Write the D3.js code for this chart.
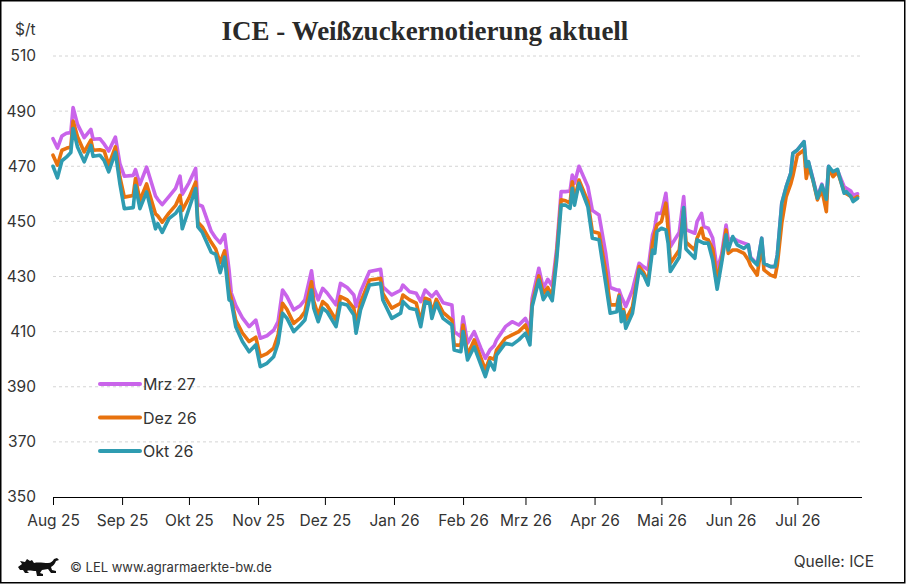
<!DOCTYPE html>
<html>
<head>
<meta charset="utf-8">
<script src="https://cdn.jsdelivr.net/npm/d3@7"></script>
<style>
  body { margin: 0; background: #fff; }
  svg { display: block; }
</style>
</head>
<body>
<div id="chart"></div>
<script>
var monthNames = ["Jan","Feb","Mrz","Apr","Mai","Jun","Jul","Aug","Sep","Okt","Nov","Dez"]
var yTicks = [350,370,390,410,430,450,470,490,510]
var seriesNames = ["Mrz 27","Dez 26","Okt 26"]
var colors = {"Mrz 27":"#c964ea","Dez 26":"#e8720e","Okt 26":"#2f9cb1"}

var dates = [
 "2025-08-01","2025-08-03","2025-08-05","2025-08-07","2025-08-09","2025-08-10","2025-08-12","2025-08-15","2025-08-18","2025-08-19",
 "2025-08-22","2025-08-24","2025-08-26","2025-08-29","2025-08-31","2025-09-02","2025-09-06","2025-09-07","2025-09-09","2025-09-12",
 "2025-09-16","2025-09-17","2025-09-19","2025-09-22","2025-09-25","2025-09-27","2025-09-28","2025-10-01","2025-10-04","2025-10-05",
 "2025-10-07","2025-10-11","2025-10-13","2025-10-15","2025-10-17","2025-10-19","2025-10-20","2025-10-22","2025-10-25","2025-10-28",
 "2025-10-31","2025-11-02","2025-11-05","2025-11-08","2025-11-10","2025-11-12","2025-11-14","2025-11-17","2025-11-20","2025-11-22",
 "2025-11-25","2025-11-26","2025-11-28","2025-11-30","2025-12-02","2025-12-06","2025-12-08","2025-12-11","2025-12-14","2025-12-15",
 "2025-12-17","2025-12-21","2025-12-26","2025-12-27","2025-12-31","2026-01-04","2026-01-05","2026-01-08","2026-01-11","2026-01-13",
 "2026-01-15","2026-01-17","2026-01-18","2026-01-20","2026-01-23","2026-01-27","2026-01-28","2026-01-31","2026-02-01","2026-02-03",
 "2026-02-06","2026-02-09","2026-02-11","2026-02-13","2026-02-15","2026-02-16","2026-02-20","2026-02-23","2026-02-26","2026-03-01",
 "2026-03-03","2026-03-04","2026-03-07","2026-03-09","2026-03-11","2026-03-13","2026-03-15","2026-03-17","2026-03-19","2026-03-21",
 "2026-03-22","2026-03-23","2026-03-25","2026-03-29","2026-03-31","2026-04-03","2026-04-06","2026-04-08","2026-04-11","2026-04-12",
 "2026-04-13","2026-04-14","2026-04-15","2026-04-18","2026-04-21","2026-04-23","2026-04-25","2026-04-27","2026-04-28","2026-04-29",
 "2026-05-01","2026-05-03","2026-05-04","2026-05-05","2026-05-09","2026-05-11","2026-05-12","2026-05-16","2026-05-17","2026-05-19",
 "2026-05-20","2026-05-22","2026-05-24","2026-05-26","2026-05-28","2026-05-30","2026-05-31","2026-06-02","2026-06-04","2026-06-07",
 "2026-06-09","2026-06-10","2026-06-13","2026-06-15","2026-06-16","2026-06-19","2026-06-21","2026-06-22","2026-06-24","2026-06-26",
 "2026-06-28","2026-06-29","2026-07-01","2026-07-04","2026-07-05","2026-07-06","2026-07-08","2026-07-10","2026-07-12","2026-07-14",
 "2026-07-15","2026-07-17","2026-07-19","2026-07-22","2026-07-23","2026-07-25","2026-07-26","2026-07-28"
]

var mrz27 = [
 480,476.6,481,482,482.2,491.3,485.2,480.4,483.4,479.8,
 480,478,475.5,480.6,471,466.4,466.7,468.8,463.4,469.7,
 459.2,458,456.1,459,462,466.4,459.8,464,469.2,456.1,
 455.5,446.4,444,442.2,445.2,432.4,424,419.5,415,411.8,
 414.2,407.6,408.5,410.5,413.6,425.1,422.7,417.9,419.5,421.5,
 432.1,426,421.5,425.7,424,419.7,427.5,426,423.3,419.1,
 424.5,431.8,432.6,426.3,423.3,425,426.9,424.5,423.9,420.9,
 425.1,423.5,422.7,424.5,420.5,419.7,410,408.2,415.4,405.8,
 410,404,400.3,403.3,405,407,411.8,413.6,412.4,414.8,
 410.6,422.1,433,425.7,429,426.6,440,460.8,460.8,461,
 466.8,463.8,470,462.6,454,452.3,438.4,426,425.1,425.1,
 422.7,421,419.1,425.1,434.8,433.5,432.4,445,447.5,452.9,
 452.9,460.2,452,440.8,446,459,447,445.7,449.9,452.9,
 448.1,447.5,444,432.4,438,448.7,443.3,443.9,443,442.1,
 441.5,437,434.5,443.9,434.5,433.6,433.6,437.8,456.6,462.6,
 467.4,474.7,475.9,478.9,469.8,471.5,465.5,459,463.5,458,
 470,467,468.5,462.6,462,461,459.5,460
]

var dez26 = [
 474,470.4,475.8,476.5,477,486.4,480.7,475.2,479.5,475.8,
 476,475.5,470.4,477,466.1,458.8,459.4,465.5,457.6,463.6,
 452.7,452,449.7,453,455.8,459.4,454,458.5,464.2,449.7,
 448,442.4,440,435,439.3,425.1,422,414.2,409.5,406.4,
 408,400.9,402,404,408.8,420.3,418,413,415,417.2,
 428.1,421,416,420.9,419.5,414.2,422.7,421.5,418.5,412.4,
 420.5,428.7,429.3,423.9,418.5,420.3,423.3,421.5,420.3,413.6,
 422.1,421.5,416.7,421.7,417,414.2,405.2,405,412.4,401.5,
 407,400.5,396.1,400.5,400,403.3,407.6,408.8,410,412.4,
 407.6,420,430.2,423.9,426,423,438,457.8,457.5,456.6,
 464.4,457.8,465,457.2,446.3,445.7,432,419.7,419.7,423.3,
 417.2,418,414.2,419,433.6,431.5,428.1,442,445.7,448.7,
 449.9,456.6,447,434.8,439.6,454.5,442.5,439.6,443.9,447.5,
 443.9,443.3,440,428.7,436,446.9,438.4,439.6,439.6,438.4,
 436,434,430.5,442.1,432.4,430.5,429.9,434.2,449.3,459,
 463.5,466.5,474.1,475.9,465.6,469.8,465,457.8,461.4,453.5,
 469.3,466.2,468,460.8,460,459,458,459
]

var okt26 = [
 470,465.8,472,473.3,475,483.7,477,471.6,477.6,473.6,
 474,472,468,475,463.7,454.6,455,463,454.6,460.7,
 447.3,449.2,446,451,452.9,455.3,447.3,454.6,461.9,448,
 446,438.8,438,431.4,437,421.5,420.9,411.8,406.4,402.7,
 405.2,397.3,398.5,400.9,405.8,416.7,414.8,410,412.4,414.2,
 425.1,418.5,413.6,418.5,417.2,411.8,420.3,419.7,416,409.4,
 417.9,426.9,427.5,421.5,414.8,416.7,420.9,418.5,417.9,411.8,
 420.9,420.3,414.8,420.3,414.8,412.4,403.3,402.7,410,399.7,
 404.5,397.9,393.7,399.1,396.1,401.5,405.8,405.2,407,409.4,
 405.2,419.1,428.7,421.6,424.2,421.2,436,455.9,455.9,454.7,
 462,455.9,463.8,455.3,443.9,443.3,427.5,416.7,417.2,422.7,
 413.6,417.2,411.2,416.7,432.4,430.5,426.9,439.6,438.4,446.3,
 447.5,446.9,442.1,431.8,437,455,440,436.6,443.3,442.5,
 442.1,442.1,436,425.4,434.8,445.1,439.6,444.5,441.5,440.2,
 441.5,436.6,434.2,443.9,434.8,433.6,433.6,437.8,456.6,462.6,
 467.4,474.7,475.9,478.9,469.8,471.7,465,458.4,463.2,458,
 470,468,468.9,460.2,460.8,459,457.2,458.4
]

var W = 907, H = 585
var margin = {left: 53, right: 45, top: 56, bottom: 88}
var sans = "Inter, Roboto, sans-serif"

var svg = d3.select("#chart").append("svg").attr("width", W).attr("height", H)
svg.append("rect").attr("x",0.75).attr("y",0.75).attr("width",W-3).attr("height",H-3)
    .attr("fill","#fff").attr("stroke","#000").attr("stroke-width",1.5)

var parse = d3.timeParse("%Y-%m-%d")
var x = d3.scaleTime()
    .domain([parse("2025-08-01"), parse("2026-07-30")])
    .range([margin.left, W - margin.right])
var y = d3.scaleLinear().domain([350, 510]).range([H - margin.bottom, margin.top])

// gridlines
svg.append("g").selectAll("line").data(yTicks.slice(1)).enter().append("line")
    .attr("x1", margin.left).attr("x2", W - margin.right)
    .attr("y1", function(d){return y(d)}).attr("y2", function(d){return y(d)})
    .attr("stroke","#d4d4d4").attr("stroke-width",1).attr("stroke-dasharray","3,3")

// y labels
var yAxis = svg.append("g").attr("transform","translate(" + (margin.left - 17) + ",0)")
    .call(d3.axisLeft(y).tickValues(yTicks).tickSize(0).tickPadding(0))
yAxis.select(".domain").remove()
yAxis.selectAll("text").attr("font-family",sans).attr("font-size",15.5).attr("fill","#333")

svg.append("text").text("$/t").attr("x",15).attr("y",35)
    .attr("font-family",sans).attr("font-size",15.5).attr("fill","#333")

// x axis
var xAxis = svg.append("g").attr("transform","translate(0," + (H - margin.bottom) + ")")
    .call(d3.axisBottom(x).ticks(d3.timeMonth.every(1)).tickSize(8).tickPadding(10)
        .tickFormat(function(d){ return monthNames[d.getMonth()] + " " + d3.timeFormat("%y")(d) }))
xAxis.select(".domain").attr("d","M" + margin.left + ",0.5H" + (W - margin.right)).attr("stroke","#000").attr("stroke-width",1.2)
xAxis.selectAll(".tick line").attr("stroke","#000")
xAxis.selectAll(".tick").filter(function(d){ return d > parse("2026-07-15") }).remove()
xAxis.selectAll("text").attr("font-family",sans).attr("font-size",15.5).attr("fill","#333")

// lines
var line = d3.line()
    .x(function(d){return x(d.date)})
    .y(function(d){return y(d.value)})
var seriesData = {"Mrz 27": mrz27, "Dez 26": dez26, "Okt 26": okt26}
seriesNames.forEach(function(name){
    var pts = dates.map(function(s, i){ return {date: parse(s), value: seriesData[name][i]} })
    svg.append("path").datum(pts)
        .attr("d", line)
        .attr("fill","none")
        .attr("stroke", colors[name])
        .attr("stroke-width",3.6)
        .attr("stroke-linejoin","round")
        .attr("stroke-linecap","round")
})

// legend
var legend = svg.append("g").selectAll("g").data(seriesNames).enter().append("g")
    .attr("transform", function(d,i){ return "translate(98," + (384 + i*33.5) + ")" })
legend.append("line").attr("x1",2).attr("x2",42).attr("y1",0).attr("y2",0)
    .attr("stroke", function(d){return colors[d]}).attr("stroke-width",4).attr("stroke-linecap","round")
legend.append("text").text(function(d){return d}).attr("x",45).attr("y",6)
    .attr("font-family",sans).attr("font-size",16).attr("fill","#333")

// title
svg.append("text").text("ICE - Weißzuckernotierung aktuell")
    .attr("x",425).attr("y",40).attr("text-anchor","middle")
    .attr("font-family","'Liberation Serif', serif").attr("font-weight","bold")
    .attr("font-size",27).attr("fill","#2a2a2a")

// footer: lion
var lion = svg.append("g").attr("transform","translate(18,558)")
lion.append("path")
    .attr("d","M0,9 L4,6 L2,3 L7,4 L9,1 L12,3 L14,2 L16,5 C20,4 26,5 30,5 C33,5 35,3 36,1 L39,0 L41,2 L38,3 C37,6 35,8 33,9 L34,12 L38,13 L38,15 L33,15 L30,11 L24,12 L22,15 L25,16 L25,18 L19,18 L18,13 C14,13 11,12 9,13 L11,15 L7,15 L5,12 L2,12 Z")
    .attr("fill","#111")
svg.append("text").text("© LEL www.agrarmaerkte-bw.de").attr("x",70).attr("y",572)
    .attr("font-family",sans).attr("font-size",13).attr("fill","#333")
svg.append("text").text("Quelle: ICE").attr("x",874).attr("y",567).attr("text-anchor","end")
    .attr("font-family",sans).attr("font-size",15.5).attr("fill","#333")
</script>
</body>
</html>
